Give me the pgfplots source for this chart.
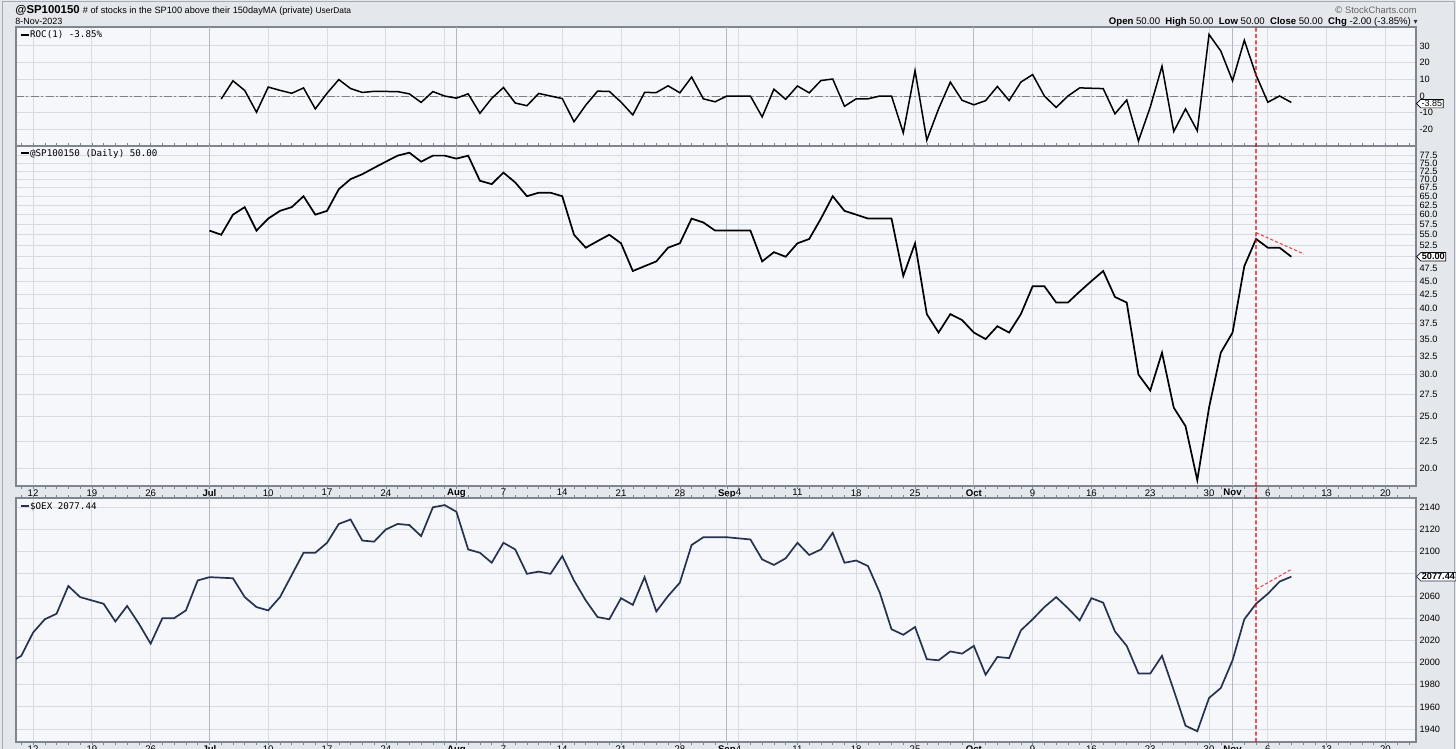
\documentclass[border=0pt]{standalone}
\usepackage{pgfplots}
\pgfplotsset{compat=1.18}
\usepackage{pgfplotstable}
\usepackage{fontspec}
\setmainfont{Liberation Sans}
\newfontfamily\monofont{DejaVu Sans Mono}
\newfontfamily\symfont{DejaVu Sans}
\usetikzlibrary{shapes.symbols}

\definecolor{outerbg}{HTML}{E4E7EC}
\definecolor{panelbg}{HTML}{F6F7FB}
\definecolor{gridc}{HTML}{D8DBE2}
\definecolor{gridm}{HTML}{B4B8C2}
\definecolor{framec}{HTML}{80858F}
\definecolor{oexc}{HTML}{27324E}
\definecolor{vred}{HTML}{E00000}
\definecolor{tred}{HTML}{F04848}

% @SP100150 daily values (x = weekday index, 0 = Mon 12 Jun 2023)
\pgfplotstableread{
i v
15 56
16 55
17 60
18 62
19 56
20 59
21 61
22 62
23 65
24 60
25 61
26 67
27 70
28 71.5
29 73.5
30 75.5
31 77.5
32 78.5
33 75.5
34 77.5
35 77.5
36 76.5
37 77.5
38 69.5
39 68.5
40 72
41 69
42 65
43 66
44 66
45 65
46 55
47 52
48 53.5
49 55
50 53
51 47
52 48
53 49
54 52
55 53
56 59
57 58
58 56
59 56
60 56
61 56
62 49
63 51
64 50
65 53
66 54
67 59
68 65
69 61
70 60
71 59
72 59
73 59
74 46
75 53
76 39
77 36
78 39
79 38
80 36
81 35
82 37
83 36
84 39
85 44
86 44
87 41
88 41
89 43
90 45
91 47
92 42
93 41
94 30
95 28
96 33
97 26
98 24
99 19
100 26
101 33
102 36
103 48
104 54
105 52
106 52
107 50
}\spdata

% ROC(1) in percent
\pgfplotstableread{
i r
16 -1.79
17 9.09
18 3.33
19 -9.68
20 5.36
21 3.39
22 1.64
23 4.84
24 -7.69
25 1.67
26 9.84
27 4.48
28 2.14
29 2.80
30 2.72
31 2.65
32 1.29
33 -3.82
34 2.65
35 0
36 -1.29
37 1.31
38 -10.32
39 -1.44
40 5.11
41 -4.17
42 -5.80
43 1.54
44 0
45 -1.52
46 -15.38
47 -5.45
48 2.88
49 2.80
50 -3.64
51 -11.32
52 2.13
53 2.08
54 6.12
55 1.92
56 11.32
57 -1.69
58 -3.45
59 0
60 0
61 0
62 -12.5
63 4.08
64 -1.96
65 6.0
66 1.89
67 9.26
68 10.17
69 -6.15
70 -1.64
71 -1.67
72 0
73 0
74 -22.03
75 15.22
76 -26.42
77 -7.69
78 8.33
79 -2.56
80 -5.26
81 -2.78
82 5.71
83 -2.70
84 8.33
85 12.82
86 0
87 -6.82
88 0
89 4.88
90 4.65
91 4.44
92 -10.64
93 -2.38
94 -26.83
95 -6.67
96 17.86
97 -21.21
98 -7.69
99 -20.83
100 36.84
101 26.92
102 9.09
103 33.33
104 12.5
105 -3.70
106 0
107 -3.85
}\rocdata

% $OEX close
\pgfplotstableread{
i c
-2 2000
-1 2006
0 2027
1 2039
2 2044
3 2069
4 2059
6 2053
7 2037
8 2051
9 2035
10 2017
11 2040
12 2040
13 2047
14 2074
15 2077
17 2076
18 2059
19 2050
20 2047
21 2059
22 2079
23 2099
24 2099
25 2108
26 2125
27 2129
28 2110
29 2109
30 2120
31 2125
32 2124
33 2114
34 2140
35 2142
36 2136
37 2102
38 2099
39 2090
40 2108
41 2102
42 2080
43 2082
44 2080
45 2096
46 2074
47 2056
48 2041
49 2039
50 2058
51 2052
52 2077
53 2046
54 2060
55 2072
56 2106
57 2113
58 2113
59 2113
61 2111
62 2093
63 2088
64 2094
65 2108
66 2097
67 2102
68 2117
69 2090
70 2092
71 2087
72 2063
73 2030
74 2025
75 2032
76 2003
77 2002
78 2010
79 2008
80 2015
81 1989
82 2005
83 2004
84 2029
85 2039
86 2050
87 2059
88 2049
89 2038
90 2058
91 2054
92 2028
93 2015
94 1990
95 1990
96 2006
97 1975
98 1943
99 1938
100 1968
101 1977
102 2002
103 2039
104 2053
105 2062
106 2073
107 2077.44
}\oexdata

\tikzset{legtext/.style={font=\monofont\fontsize{4.6}{5}\selectfont, anchor=north west, inner sep=0pt}}

\pgfplotsset{
  panel/.style={
    scale only axis, width=700pt,
    xmin=-1.45, xmax=117.6,
    clip mode=individual,
    axis background/.style={fill=panelbg},
    axis line style={draw=framec, line width=0.6pt},
    xtick={0,5,...,115},
    xticklabels={},
    extra x ticks={15,36,59,80,102},
    extra x tick labels={},
    extra x tick style={major grid style={draw=gridm, line width=0.45pt}},
    xmajorgrids, ymajorgrids,
    major grid style={draw=gridc, line width=0.4pt},
    major tick length=0pt,
    yticklabel pos=right,
    ytick pos=right,
    yticklabel style={font=\fontsize{4.6}{5}\selectfont, anchor=west, inner sep=0pt, xshift=1.6pt,
      /pgf/number format/assume math mode=true},
  },
  dates/.style={
    xticklabels={12,19,26,,10,17,24,,7,14,21,28,4,11,18,25,,9,16,23,30,6,13,20},
    extra x tick labels={\textbf{Jul},\textbf{Aug},\textbf{Sep},\textbf{Oct},\textbf{Nov}},
    xticklabel style={font=\fontsize{4.8}{5}\selectfont, anchor=north, inner sep=0pt, yshift=-1.5pt},
    minor xtick={-1,0,...,117},
    minor tick length=1.3pt,
    minor tick style={draw=framec, line width=0.3pt},
    xtick align=outside,
  },
}

\begin{document}
\begin{tikzpicture}
\useasboundingbox (0,0) rectangle (728pt,374.5pt);
\fill[outerbg] (0,0) rectangle (728pt,374.5pt);
\draw[framec!70, line width=0.5pt] (1pt,0) -- (1pt,373.5pt) -- (727pt,373.5pt) -- (727pt,0);

% header
\node[anchor=base west, inner sep=0pt] at (7.5pt,367.5pt)
  {\fontsize{5.7}{6}\selectfont\textbf{@SP100150}\ \fontsize{4.6}{5}\selectfont \# of stocks in the SP100 above their 150dayMA (private)\ \fontsize{4.2}{5}\selectfont UserData};
\node[anchor=base west, inner sep=0pt] at (7.5pt,362pt) {\fontsize{4.5}{5}\selectfont 8-Nov-2023};
\node[anchor=base east, inner sep=0pt, text=black!60] at (708.5pt,367.5pt) {\fontsize{4.7}{5}\selectfont{\symfont\char"00A9}\,StockCharts.com};
\node[anchor=base east, inner sep=0pt] at (709pt,362.2pt)
  {\fontsize{4.8}{5}\selectfont\textbf{Open} 50.00\ \ \textbf{High} 50.00\ \ \textbf{Low} 50.00\ \ \textbf{Close} 50.00\ \ \textbf{Chg} -2.00 (-3.85\%)\ {\symfont\color{oexc}\fontsize{4}{4}\selectfont ▾}};

% ROC panel
\begin{axis}[panel, at={(8pt,361pt)}, anchor=north west, height=59.5pt,
  ymin=-29.9, ymax=41.3, ytick={-20,-10,0,10,20,30},
  yticklabels={-20,-10,0,10,20,30}]
\addplot[gray, line width=0.5pt, dash pattern=on 4pt off 1.2pt on 1pt off 1.2pt, forget plot] coordinates {(-1.45,0) (117.6,0)};
\addplot[black, line width=0.75pt] table[x=i, y=r] {\rocdata};
\node[legtext] at (rel axis cs:0.003,0.975) {\rule[0.35ex]{4pt}{1pt}\,ROC(1) -3.85\%};
\node[signal, signal to=west, draw=black, fill=white, inner sep=0.5pt, line width=0.35pt,
  font=\fontsize{4.5}{5}\selectfont, anchor=west] at ({rel axis cs:1,0}|-{axis cs:0,-4.6}) {-3.85};
\coordinate (vt) at (axis cs:104,41.3);
\end{axis}

% @SP100150 panel
\begin{axis}[panel, dates, at={(8pt,301.5pt)}, anchor=north west, height=170pt,
  ymode=log, ymin=18.52, ymax=80.8,
  ytick={20,22.5,25,27.5,30,32.5,35,37.5,40,42.5,45,47.5,50,52.5,55,57.5,60,62.5,65,67.5,70,72.5,75,77.5},
  yticklabels={20.0,22.5,25.0,27.5,30.0,32.5,35.0,37.5,40.0,42.5,45.0,47.5,,52.5,55.0,57.5,60.0,62.5,65.0,67.5,70.0,72.5,75.0,77.5}]
\addplot[black, line width=0.85pt] table[x=i, y=v] {\spdata};
\addplot[tred, line width=0.55pt, dash pattern=on 1.6pt off 1pt] coordinates {(104,55.5) (108.06,50.6)};
\node[legtext] at (rel axis cs:0.003,0.992) {\rule[0.35ex]{4pt}{1pt}\,@SP100150 (Daily) 50.00};
\node[signal, signal to=west, draw=black, fill=white, inner sep=0.5pt, line width=0.35pt,
  font=\bfseries\fontsize{4.6}{5}\selectfont, anchor=west] at ({rel axis cs:1,0}|-{axis cs:0,50}) {50.00};
\end{axis}

% $OEX panel
\begin{axis}[panel, dates, at={(8pt,125.5pt)}, anchor=north west, height=122pt,
  ymin=1928.3, ymax=2148.4, ytick={1940,1960,...,2140},
  yticklabels={1940,1960,1980,2000,2020,2040,2060,,2100,2120,2140}]
\addplot[oexc, line width=0.85pt] table[x=i, y=c] {\oexdata};
\addplot[tred, line width=0.55pt, dash pattern=on 1.6pt off 1pt] coordinates {(104,2066) (107,2084)};
\node[legtext] at (rel axis cs:0.003,0.985) {\textcolor{oexc}{\rule[0.35ex]{4pt}{1pt}}\,\$OEX 2077.44};
\node[signal, signal to=west, draw=oexc, fill=white, inner sep=0.5pt, line width=0.35pt,
  font=\bfseries\fontsize{4.6}{5}\selectfont, anchor=west] at ({rel axis cs:1,0}|-{axis cs:0,2077.44}) {2077.44};
\coordinate (vb) at (axis cs:104,1928.3);
\end{axis}

\draw[vred, line width=0.6pt, dash pattern=on 2pt off 1.2pt] (vb) -- (vt);
\end{tikzpicture}
\end{document}
